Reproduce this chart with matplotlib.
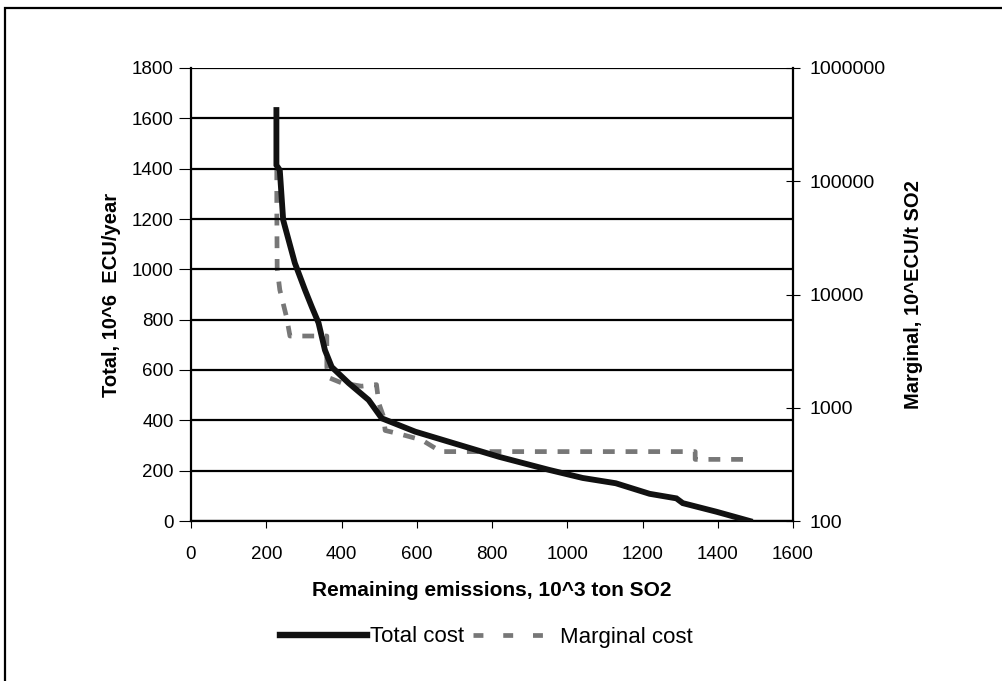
import numpy as np
import matplotlib
matplotlib.use('Agg')
import matplotlib.pyplot as plt
from matplotlib.lines import Line2D
from matplotlib.patches import Rectangle

plt.rcParams['font.family'] = ['Liberation Sans', 'DejaVu Sans']

# --- dati ---
# Costo totale (asse sinistro, 10^6 ECU/anno)
total_emis = [227, 227, 236, 245, 276, 303, 321, 339, 356, 374, 419, 472, 507,
              596, 685, 819, 952, 1041, 1129, 1219, 1290, 1307, 1396, 1485]
total_cost = [1633, 1414, 1394, 1196, 1025, 918, 851, 787, 679, 612, 548, 481, 408,
              355, 315, 255, 203, 171, 150, 108, 90, 71, 37, 0]

# Costo marginale (asse destro, log)
marg_emis = [228, 228, 229, 236, 254, 263, 361, 361, 365, 400, 453, 493, 499,
             512, 516, 552, 613, 659, 660, 1340, 1340, 1485]
marg_cost = [130000, 60000, 17000, 11000, 6300, 4300, 4300, 2300, 1850, 1660, 1550,
             1600, 1100, 830, 630, 590, 520, 420, 410, 410, 350, 350]

x_ticks = np.arange(0, 1601, 200)
y_ticks = np.arange(0, 1801, 200)
y2_ticks = [100, 1000, 10000, 100000, 1000000]

# --- grafico ---
fig = plt.figure(figsize=(10.02, 6.81), dpi=100)
ax1 = fig.add_axes([191 / 1002, 1 - 521 / 681, 602 / 1002, 453 / 681])

ax1.set_xlim(0, 1600)
ax1.set_ylim(0, 1800)
ax1.set_xticks(x_ticks)
ax1.set_yticks(y_ticks)
ax1.yaxis.grid(True, color='black', linewidth=1.6)
ax1.set_axisbelow(True)
for s in ['top', 'right']:
    ax1.spines[s].set_visible(False)
for s in ['left', 'bottom']:
    ax1.spines[s].set_linewidth(1.6)
ax1.tick_params(axis='y', direction='out', length=9, width=0.8, pad=3.5, labelsize=13.5)
ax1.tick_params(axis='x', direction='out', length=5, width=0.8, pad=13, labelsize=13.5)

ax2 = ax1.twinx()
ax2.set_yscale('log')
ax2.set_ylim(100, 1000000)
ax2.set_yticks(y2_ticks)
ax2.set_yticklabels([str(v) for v in y2_ticks])
ax2.yaxis.set_minor_locator(matplotlib.ticker.NullLocator())
ax2.tick_params(axis='y', direction='inout', length=10, width=0.8, pad=7, labelsize=14)
for s in ['top', 'left', 'bottom']:
    ax2.spines[s].set_visible(False)
ax2.spines['right'].set_linewidth(1.6)

l1, = ax1.plot(total_emis, total_cost, color='#111111', linewidth=4.2, label='Total cost',
               solid_joinstyle='miter', zorder=3)
l2, = ax2.plot(marg_emis, marg_cost, color='#777777', linewidth=3.4, linestyle=(0, (2.5, 2.3)),
               label='Marginal cost', zorder=2)
ax1.set_zorder(ax2.get_zorder() + 1)
ax1.patch.set_visible(False)

ax1.set_xlabel('Remaining emissions, 10^3 ton SO2', fontsize=15, fontweight='bold', labelpad=13)
ax1.set_ylabel('Total, 10^6  ECU/year', fontsize=14.5, fontweight='bold', labelpad=8)
ax2.set_ylabel('Marginal, 10^ECU/t SO2', fontsize=14.5, fontweight='bold', labelpad=13)

# legenda: due voci separate (le maniglie hanno lunghezze diverse)
h1 = Line2D([], [], color='#111111', linewidth=4.6)
h2 = Line2D([], [], color='#777777', linewidth=3.4, dashes=(2.1, 4.2))
fig.legend([h1], ['Total cost'], loc='center left', bbox_to_anchor=(280 / 1002, 1 - 637 / 681),
           frameon=False, fontsize=16, borderpad=0, borderaxespad=0,
           handlelength=3.92, handletextpad=0.14)
fig.legend([h2], ['Marginal cost'], loc='center left', bbox_to_anchor=(473 / 1002, 1 - 637 / 681),
           frameon=False, fontsize=16, borderpad=0, borderaxespad=0,
           handlelength=3.15, handletextpad=0.77)

# cornice della figura
fig.patches.append(Rectangle((5 / 1002, -0.1), 1.2, 1 - 8 / 681 + 0.1, transform=fig.transFigure,
                             fill=False, edgecolor='black', linewidth=1.6))

fig.savefig('out.png', dpi=100)
